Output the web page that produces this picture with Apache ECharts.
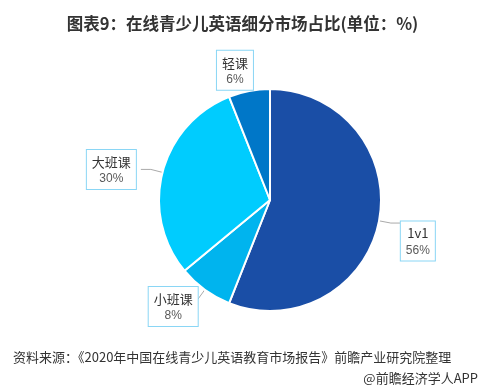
<!DOCTYPE html>
<html>
<head>
<meta charset="utf-8">
<script src="https://cdn.jsdelivr.net/npm/echarts@6/dist/echarts.min.js"></script>
<style>html,body{margin:0;padding:0;background:#fff;}#c{width:485px;height:388px;}</style>
</head>
<body>
<div id="c"></div>
<script>
var categories = ['1v1', '小班课', '大班课', '轻课'];
var values = [56, 8, 30, 6];
var titleText = '图表9：在线青少儿英语细分市场占比(单位：%)';
var sourceText = '资料来源：《2020年中国在线青少儿英语教育市场报告》前瞻产业研究院整理';
var brandText = '@前瞻经济学人APP';

var colors = ['#1a4ea6', '#00b4ee', '#00ccfe', '#0077c8'];
var labelShift = [[-5, 18], [15, 7], [0, 0], [21, -9]];
var chart = echarts.init(document.getElementById('c'));
chart.setOption({
  backgroundColor: '#fff',
  animation: false,
  title: [
    {text: titleText, left: 'center', top: 10, textStyle: {fontSize: 16.5, fontWeight: 'bold', color: '#333', fontFamily: 'Noto Sans CJK SC'}},
    {text: sourceText, left: 8, top: 346, textStyle: {fontSize: 13, fontWeight: 'normal', color: '#333', fontFamily: 'Noto Sans CJK SC'}},
    {text: brandText, right: 2, top: 367, textStyle: {fontSize: 13, fontWeight: 'normal', color: '#333', fontFamily: 'Noto Sans CJK SC'}}
  ],
  series: [{
    type: 'pie',
    center: [270, 200],
    radius: 111,
    startAngle: 90,
    clockwise: true,
    itemStyle: {borderColor: '#fff', borderWidth: 2},
    label: {
      show: true,
      formatter: '{n|{b}}\n{p|{c}%}',
      borderColor: '#8ad6f5',
      borderWidth: 1,
      padding: [3, 5, 2, 5],
      backgroundColor: '#fff',
      rich: {
        n: {fontSize: 13, color: '#333', lineHeight: 18, align: 'center', fontFamily: 'Noto Sans CJK SC'},
        p: {fontSize: 12, color: '#595959', lineHeight: 16, align: 'center', fontFamily: 'Liberation Sans'}
      }
    },
    labelLine: {show: true, length: 12, length2: 10, lineStyle: {color: '#aaa', width: 1}},
    labelLayout: function (p) {
      var s = labelShift[p.dataIndex];
      return {dx: s[0], dy: s[1]};
    },
    data: categories.map(function (c, i) { return {name: c, value: values[i], itemStyle: {color: colors[i]}}; })
  }]
});
</script>
</body>
</html>
